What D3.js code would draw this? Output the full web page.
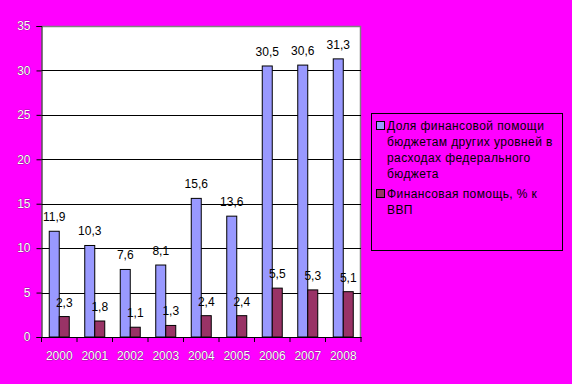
<!DOCTYPE html>
<html>
<head>
<meta charset="utf-8">
<script src="https://cdn.jsdelivr.net/npm/d3@7"></script>
<style>
  body { margin: 0; background: #ff00ff; }
  text { font-family: "Liberation Sans", Arial, sans-serif; }
</style>
</head>
<body>
<div id="chart"></div>
<script>
var years = ["2000", "2001", "2002", "2003", "2004", "2005", "2006", "2007", "2008"];
var shareValues = [11.9, 10.3, 7.6, 8.1, 15.6, 13.6, 30.5, 30.6, 31.3];
var gdpValues = [2.3, 1.8, 1.1, 1.3, 2.4, 2.4, 5.5, 5.3, 5.1];
var yTicks = [0, 5, 10, 15, 20, 25, 30, 35];
var seriesNames = [
  ["Доля финансовой помощи", "бюджетам других уровней в", "расходах федерального", "бюджета"],
  ["Финансовая помощь, % к", "ВВП"]
];
var seriesColors = ["#9999ff", "#993366"];

var svgWidth = 572;
var svgHeight = 384;
var margin = { top: 26, right: 211, bottom: 47, left: 41.5 };
var width = svgWidth - margin.left - margin.right;
var height = svgHeight - margin.top - margin.bottom;

var svg = d3.select("#chart")
  .append("svg")
  .attr("width", svgWidth)
  .attr("height", svgHeight);

svg.append("rect")
  .attr("width", svgWidth)
  .attr("height", svgHeight)
  .attr("fill", "#ff00ff");

var chartGroup = svg.append("g")
  .attr("transform", `translate(${margin.left}, ${margin.top})`);

// scales
var xScale = d3.scaleBand()
  .domain(years)
  .range([0, width]);

var groupWidth = 20;
var yScale = d3.scaleLinear()
  .domain([0, 35])
  .range([height, 0]);

// plot area
chartGroup.append("rect")
  .attr("width", width)
  .attr("height", height)
  .attr("fill", "#ffffff");

chartGroup.append("path")
  .attr("d", `M0,0.5H${width - 0.5}V${height}`)
  .attr("fill", "none")
  .attr("stroke", "#808080")
  .attr("stroke-width", 1.5);

// gridlines
chartGroup.selectAll(".grid")
  .data(yTicks.filter(d => d > 0 && d < 35))
  .enter()
  .append("line")
  .attr("x1", 0)
  .attr("x2", width)
  .attr("y1", d => Math.round(yScale(d)) + 0.5)
  .attr("y2", d => Math.round(yScale(d)) + 0.5)
  .attr("stroke", "#000")
  .attr("stroke-width", 1);

// shadowed white text for axes
function styleTick(sel) {
  sel.attr("fill", "#ffffff")
    .attr("stroke", "#333")
    .attr("stroke-width", 0.45)
    .attr("paint-order", "stroke")
    .attr("font-size", "12px");
}

// y axis
var leftAxis = d3.axisLeft(yScale).tickValues(yTicks).tickSize(5).tickPadding(6);
var yAxisG = chartGroup.append("g").call(leftAxis);
yAxisG.select(".domain").attr("stroke", "#000");
yAxisG.selectAll(".tick line").attr("stroke", "#000");
yAxisG.selectAll(".tick text").call(styleTick).attr("font-family", null);

// x axis
var bottomAxis = d3.axisBottom(xScale).tickSize(0).tickPadding(14);
var xAxisG = chartGroup.append("g")
  .attr("transform", `translate(0, ${height})`)
  .call(bottomAxis);
xAxisG.select(".domain").attr("stroke", "#000");
xAxisG.selectAll(".tick text").call(styleTick).attr("font-family", null);

xAxisG.selectAll(".catTick")
  .data(years.concat(["end"]))
  .enter()
  .append("line")
  .attr("x1", (d, i) => i * xScale.step())
  .attr("x2", (d, i) => i * xScale.step())
  .attr("y1", 0)
  .attr("y2", 5)
  .attr("stroke", "#000");

// bars
var series = [shareValues, gdpValues];
series.forEach(function(values, s) {
  var offset = (xScale.bandwidth() - groupWidth) / 2 + s * groupWidth / 2;
  chartGroup.selectAll(".bar" + s)
    .data(values)
    .enter()
    .append("rect")
    .attr("x", (d, i) => xScale(years[i]) + offset)
    .attr("y", d => yScale(d))
    .attr("width", groupWidth / 2)
    .attr("height", d => height - yScale(d))
    .attr("fill", seriesColors[s])
    .attr("stroke", "#000")
    .attr("stroke-width", 1);
});

// value labels
series.forEach(function(values, s) {
  var offset = (xScale.bandwidth() - groupWidth) / 2 + s * groupWidth / 2 + groupWidth / 4;
  chartGroup.selectAll(".label" + s)
    .data(values)
    .enter()
    .append("text")
    .attr("x", (d, i) => xScale(years[i]) + offset)
    .attr("y", d => yScale(d) - 10)
    .attr("text-anchor", "middle")
    .attr("font-size", "12px")
    .attr("fill", "#000")
    .text(d => String(d).replace(".", ","));
});

// legend
var legend = svg.append("g");
legend.append("rect")
  .attr("x", 371.5)
  .attr("y", 113.5)
  .attr("width", 191)
  .attr("height", 137)
  .attr("fill", "none")
  .attr("stroke", "#000")
  .attr("stroke-width", 1);

var entryTop = [121, 189];
seriesNames.forEach(function(lines, s) {
  legend.append("rect")
    .attr("x", 376.5)
    .attr("y", entryTop[s] + 0.5)
    .attr("width", 8)
    .attr("height", 8)
    .attr("fill", seriesColors[s])
    .attr("stroke", "#000");
  legend.selectAll(".leg" + s)
    .data(lines)
    .enter()
    .append("text")
    .attr("x", 387)
    .attr("y", (d, i) => entryTop[s] + 9 + i * 16)
    .attr("font-size", "12px")
    .attr("letter-spacing", "0.4px")
    .attr("fill", "#000")
    .text(d => d);
});
</script>
</body>
</html>
